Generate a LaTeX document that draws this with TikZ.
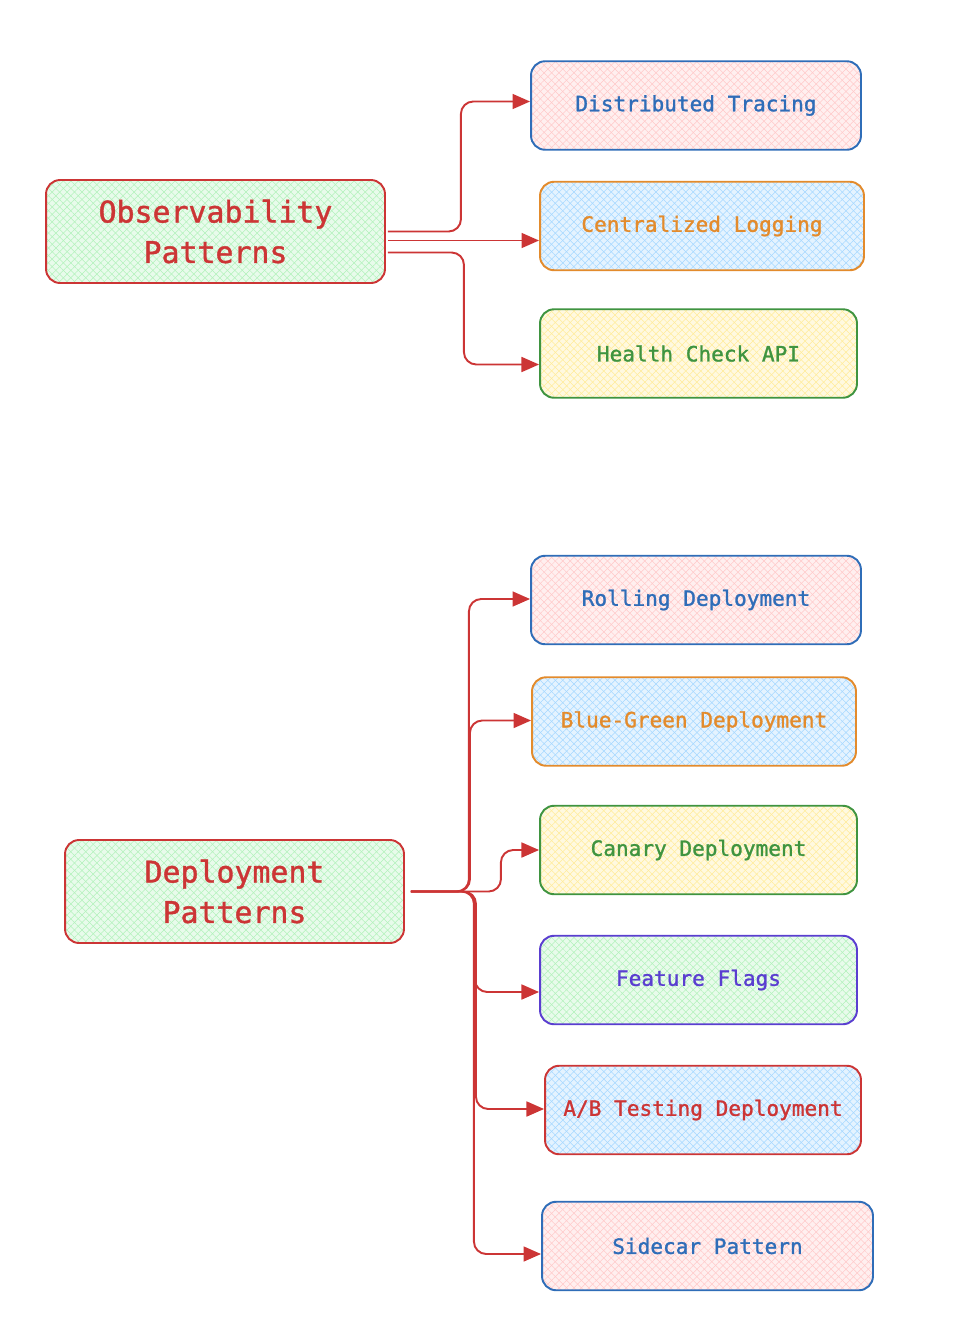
\documentclass[tikz,border=0pt]{standalone}
\usepackage{fontspec}
\setmonofont{DejaVu Sans Mono}[BoldFeatures={FakeBold=1.3}, BoldFont=DejaVu Sans Mono]
\usepackage{tikz}
\usetikzlibrary{arrows.meta,calc,patterns.meta}
\definecolor{redcol}{HTML}{CC3535}
\definecolor{bluecol}{HTML}{2F6DB8}
\definecolor{orangecol}{HTML}{E38B2C}
\definecolor{greencol}{HTML}{3F9440}
\definecolor{violetcol}{HTML}{5A3ED0}
\definecolor{pinkfill}{HTML}{FFC9C9}
\definecolor{skyfill}{HTML}{A5D8FF}
\definecolor{yellowfill}{HTML}{FFEC99}
\definecolor{mintfill}{HTML}{B2F2BB}
\tikzset {
    card/.style 2 args={draw=#1, text=#1, line width=1.1pt, rounded corners=8pt,
        preaction={fill=#2!30},
        preaction={pattern={Lines[angle=45,distance=3pt,line width=0.3pt]}, pattern color=#2},
        preaction={pattern={Lines[angle=-45,distance=3pt,line width=0.3pt]}, pattern color=#2},
        minimum height=1.77cm, align=center,
        font=\ttfamily\bfseries\fontsize{12pt}{14pt}\selectfont},
    topic/.style={card={redcol}{mintfill}, minimum width=6.78cm, minimum height=2.06cm,
        font=\ttfamily\bfseries\fontsize{17pt}{23pt}\selectfont},
    link/.style={draw=redcol, line width=1.1pt, rounded corners=7pt,
        -{Triangle[length=10pt,width=8.5pt]}},
}

\begin{document}
\begin{tikzpicture}[x=0.02cm, y=-0.02cm]
    \useasboundingbox (0,0) rectangle (960,1340);

    \node[topic] at (215.5,231.5) (obs) {Observability\\Patterns};
    \node[card={bluecol}{pinkfill}, minimum width=6.6cm] at (696,105.5) (dtr) {Distributed Tracing};
    \node[card={orangecol}{skyfill}, minimum width=6.48cm] at (702,226) (clog) {Centralized Logging};
    \node[card={greencol}{yellowfill}, minimum width=6.34cm] at (698.5,353.5) (hca) {Health Check API};

    \node[topic] at (234.5,891.5) (dep) {Deployment\\Patterns};
    \node[card={bluecol}{pinkfill}, minimum width=6.6cm] at (696,600) (roll) {Rolling Deployment};
    \node[card={orangecol}{skyfill}, minimum width=6.48cm] at (694,721.5) (bgd) {Blue-Green Deployment};
    \node[card={greencol}{yellowfill}, minimum width=6.34cm] at (698.5,850) (can) {Canary Deployment};
    \node[card={violetcol}{mintfill}, minimum width=6.34cm] at (698.5,980) (ffl) {Feature Flags};
    \node[card={redcol}{skyfill}, minimum width=6.32cm] at (703,1110) (abt) {A/B Testing Deployment};
    \node[card={bluecol}{pinkfill}, minimum width=6.62cm] at (707.5,1246) (side) {Sidecar Pattern};

    \coordinate (o1) at ($(obs.east)+(2,0)$);
    \coordinate (o2) at ($(obs.east)+(2,9)$);
    \coordinate (o3) at ($(obs.east)+(2,21)$);
    \coordinate (d0) at ($(dep.east)+(6,0)$);

    \draw[link] (o1) -- ++(73,0) |- ($(dtr.west)+(0,-4)$);
    \draw[link] (o2) -- (o2 -| clog.west);
    \draw[link] (o3) -- ++(76,0) |- ($(hca.west)+(0,11)$);

    \draw[link] (d0) -- ++(58,0) |- ($(roll.west)+(0,-1)$);
    \draw[link] (d0) -- ++(59,0) |- ($(bgd.west)+(0,-1)$);
    \draw[link] (d0) -- ++(90,0) |- (can.west);
    \draw[link] (d0) -- ++(64,0) |- ($(ffl.west)+(0,12)$);
    \draw[link] (d0) -- ++(65,0) |- ($(abt.west)+(0,-1)$);
    \draw[link] (d0) -- ++(63,0) |- ($(side.west)+(0,8)$);
\end{tikzpicture}
\end{document}
